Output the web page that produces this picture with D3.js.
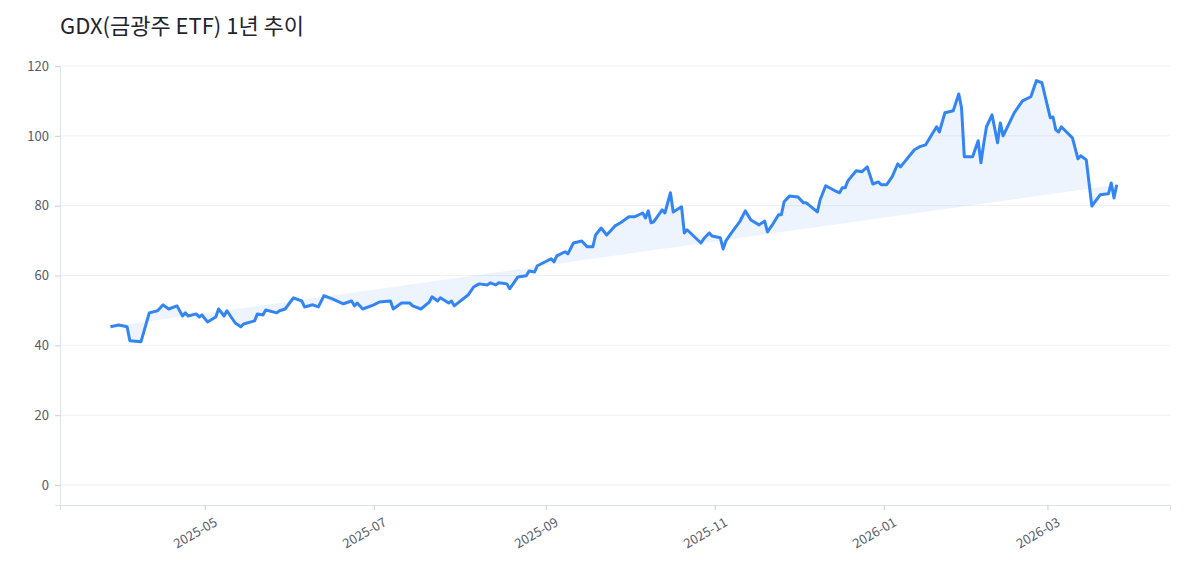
<!DOCTYPE html>
<html>
<head>
<meta charset="utf-8">
<script src="https://cdn.jsdelivr.net/npm/d3@7"></script>
<style>
  body { margin: 0; background: #fff; font-family: "Noto Sans CJK KR", "Noto Sans", sans-serif; }
  .tick text { fill: #555c6b; font-size: 13px; font-family: "Noto Sans CJK KR", "Noto Sans", sans-serif; }
</style>
</head>
<body>
<svg id="chart" width="1185" height="585"></svg>
<script>
// day offsets from the first trading day, and closing prices
var startDate = new Date(2025, 2, 28);
var dayOffsets = [0,3,6,7,11,14,17,19,21,24,26,27,28,31,32,33,35,38,39,41,42,45,47,48,52,53,55,56,60,61,63,66,69,70,73,75,77,80,84,87,88,89,91,95,97,101,102,105,108,109,112,115,116,118,119,122,123,124,129,131,133,136,137,139,140,143,144,147,150,151,153,154,159,160,161,164,165,167,170,172,174,175,177,179,182,184,187,189,192,193,194,195,196,199,200,202,203,206,207,208,213,214,216,217,220,221,222,224,227,229,231,234,236,237,239,241,242,243,245,248,250,251,255,256,258,262,263,264,265,266,269,271,273,275,277,278,280,282,284,285,290,292,294,298,299,301,304,306,307,308,311,313,314,315,316,318,320,321,322,326,329,332,334,336,339,340,341,342,343,347,349,350,352,354,357,360,361,362,363,364];
var prices = [45.3,45.8,45.3,41.3,41.0,49.3,49.9,51.6,50.4,51.3,48.4,49.3,48.4,49.0,48.1,48.7,46.7,48.1,50.4,48.4,49.9,46.4,45.3,46.1,47.0,49.0,48.7,50.1,49.3,49.9,50.4,53.6,52.7,51.0,51.6,51.0,54.2,53.3,51.9,52.7,51.3,52.1,50.4,51.6,52.4,52.7,50.4,52.1,52.1,51.3,50.4,52.4,53.9,52.7,53.6,52.1,52.7,51.3,54.4,56.7,57.6,57.3,57.9,57.3,57.9,57.6,56.2,59.6,59.9,61.3,61.0,62.8,64.8,63.9,65.6,66.8,66.2,69.3,69.9,68.2,68.2,71.6,73.6,71.6,74.2,75.1,76.8,76.8,77.9,76.5,78.5,75.1,75.4,78.8,77.9,83.7,78.2,79.7,72.2,73.1,69.3,70.5,72.2,71.3,70.8,67.6,69.9,72.2,75.4,78.5,75.9,74.5,75.6,72.5,74.8,77.4,77.4,81.1,82.8,82.5,80.8,80.8,78.2,81.7,85.7,84.0,83.7,85.1,85.1,87.1,90.0,89.7,91.1,86.2,86.8,86.0,86.0,88.3,92.0,91.1,96.0,96.9,97.4,102.6,101.1,106.6,107.2,112.0,108.0,94.0,94.0,98.6,92.3,97.7,102.6,106.0,98.0,103.7,100.0,106.6,110.0,111.2,115.8,115.2,105.2,105.4,101.7,101.1,102.6,99.4,93.4,94.3,93.1,79.9,83.1,83.4,86.5,82.2,86.0];
var yTicks = [0, 20, 40, 60, 80, 100, 120];
var xTicks = ["2025-05-01","2025-07-01","2025-09-01","2025-11-01","2026-01-01","2026-03-01"];

var data = dayOffsets.map(function (d, i) {
  return { date: d3.timeDay.offset(startDate, d), value: prices[i] };
});

var svg = d3.select("#chart");
var plotLeft = 60, plotRight = 1170, plotTop = 66, plotBottom = 505;

var first = data[0].date, last = data[data.length - 1].date;
var pad = (last - first) * 0.05;
var x = d3.scaleTime()
  .domain([new Date(+first - pad), new Date(+last + pad)])
  .range([plotLeft, plotRight]);
var y = d3.scaleLinear().domain([-5.73, 120]).range([plotBottom, plotTop]);

// grid
svg.append("g").selectAll("line").data(yTicks).enter().append("line")
  .attr("x1", plotLeft).attr("x2", plotRight)
  .attr("y1", d => y(d)).attr("y2", d => y(d))
  .attr("stroke", "#eef0f4").attr("stroke-width", 1);

// area + line
var area = d3.area().x(d => x(d.date)).y0(y(0)).y1(d => y(d.value));
svg.append("path").datum(data).attr("d", area)
  .attr("fill", "#3b82f6").attr("fill-opacity", 0.09)
  .attr("stroke", "#3b82f6").attr("stroke-opacity", 0.12);

var line = d3.line().x(d => x(d.date)).y(d => y(d.value));
svg.append("path").datum(data).attr("d", line)
  .attr("fill", "none").attr("stroke", "#3385f4")
  .attr("stroke-width", 3).attr("stroke-linejoin", "round");

// axes
var yAxis = svg.append("g").attr("transform", "translate(" + plotLeft + ",0)")
  .call(d3.axisLeft(y).tickValues(yTicks).tickSize(5).tickPadding(6));
var xAxis = svg.append("g").attr("transform", "translate(0," + plotBottom + ")")
  .call(d3.axisBottom(x).tickValues(xTicks.map(d => d3.timeParse("%Y-%m-%d")(d)))
    .tickFormat(d3.timeFormat("%Y-%m")).tickSize(5).tickPadding(4));
xAxis.selectAll("text")
  .attr("text-anchor", "end")
  .attr("transform", "translate(4,4) rotate(-30)");
[yAxis, xAxis].forEach(function (g) {
  g.select(".domain").attr("stroke", "#dde1e8");
  g.selectAll(".tick line").attr("stroke", "#c9ced8");
});

svg.append("text").attr("x", 60).attr("y", 34)
  .attr("font-size", 22).attr("fill", "#1f2430")
  .text("GDX(금광주 ETF) 1년 추이");
</script>
</body>
</html>
